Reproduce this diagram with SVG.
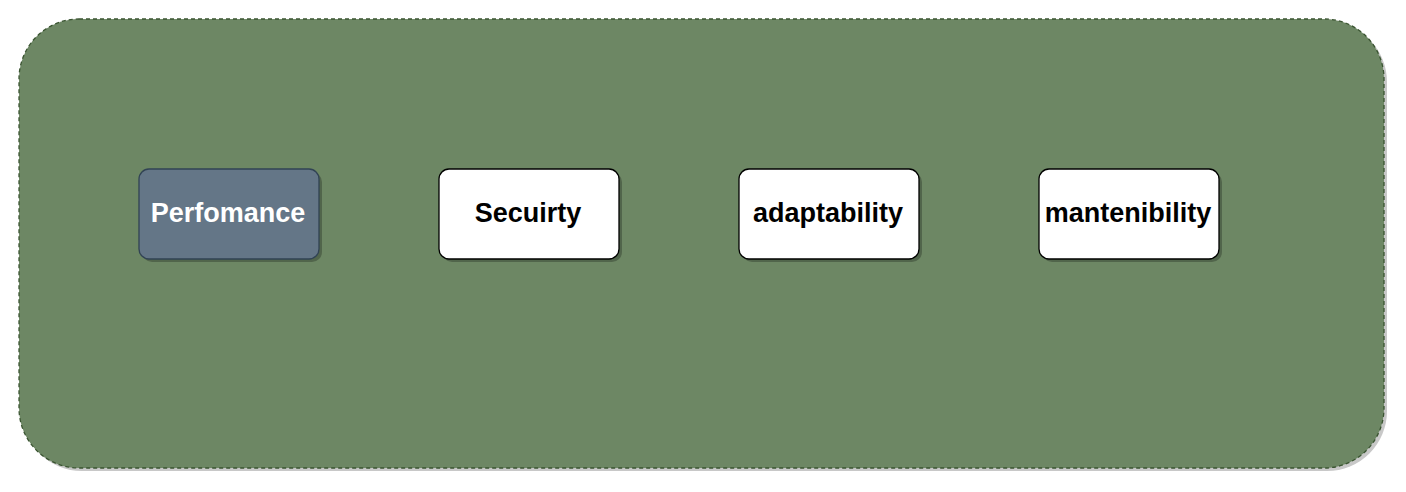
<svg xmlns="http://www.w3.org/2000/svg" width="1406" height="492" viewBox="0 0 1406 492">
<defs>
<style>
.lbl{font-family:"Liberation Sans",Arial,sans-serif;font-weight:bold;font-size:27px;text-anchor:middle}
.shadow{fill:#000;opacity:0.25}
.node{fill:#ffffff;stroke:#000000;stroke-width:1.3}
</style>
</defs>
<rect width="1406" height="492" fill="#ffffff"/>
<g id="container">
<rect x="22" y="22" width="1365" height="449" rx="60" ry="60" fill="#c8c8c8"/>
<rect x="19" y="19" width="1365" height="449" rx="60" ry="60" fill="#6d8764" stroke="#3a5431" stroke-width="1.3" stroke-dasharray="4 3"/>
</g>
<g id="connectors"></g>
<g id="perfomance">
<rect class="shadow" x="142" y="172" width="180" height="90" rx="10"/>
<rect x="139" y="169" width="180" height="90" rx="10" fill="#647687" stroke="#314354" stroke-width="1.3"/>
<text class="lbl" x="228" y="222" fill="#ffffff">Perfomance</text>
</g>
<g id="secuirty">
<rect class="shadow" x="442" y="172" width="180" height="90" rx="10"/>
<rect class="node" x="439" y="169" width="180" height="90" rx="10"/>
<text class="lbl" x="528" y="222" fill="#000">Secuirty</text>
</g>
<g id="adaptability">
<rect class="shadow" x="742" y="172" width="180" height="90" rx="10"/>
<rect class="node" x="739" y="169" width="180" height="90" rx="10"/>
<text class="lbl" x="828" y="222" fill="#000">adaptability</text>
</g>
<g id="mantenibility">
<rect class="shadow" x="1042" y="172" width="180" height="90" rx="10"/>
<rect class="node" x="1039" y="169" width="180" height="90" rx="10"/>
<text class="lbl" x="1128" y="222" fill="#000">mantenibility</text>
</g>
</svg>
